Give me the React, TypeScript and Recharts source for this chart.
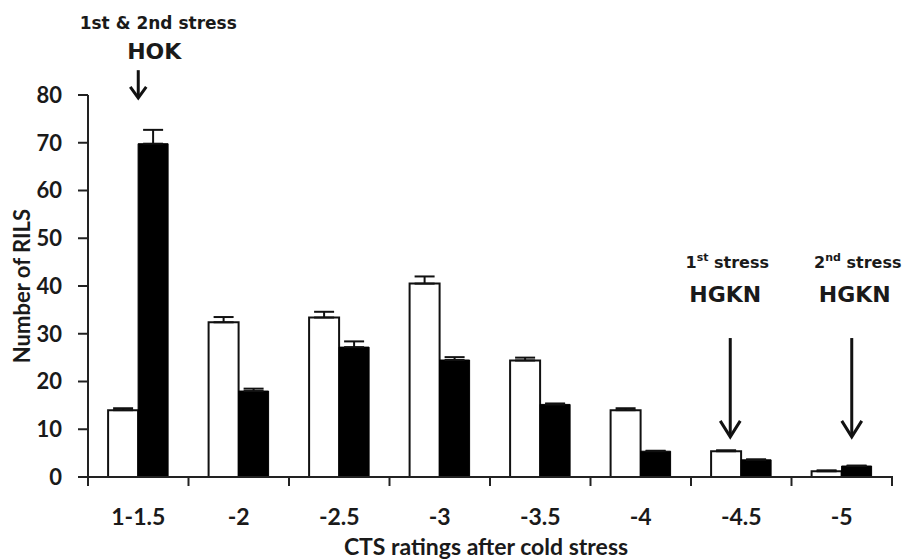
import React from 'react';
import { BarChart, Bar, XAxis, YAxis, ErrorBar, ReferenceLine, Label } from 'recharts';

const categories = ['1-1.5', '-2', '-2.5', '-3', '-3.5', '-4', '-4.5', '-5'];
const firstStress = [14, 32.4, 33.4, 40.5, 24.4, 14, 5.4, 1.2];
const firstErr = [0.4, 1.1, 1.2, 1.5, 0.6, 0.4, 0.2, 0.2];
const secondStress = [69.8, 18, 27.2, 24.5, 15.2, 5.4, 3.6, 2.3];
const secondErr = [2.9, 0.5, 1.2, 0.6, 0.2, 0.1, 0.1, 0.1];
const yTicks = [0, 10, 20, 30, 40, 50, 60, 70, 80];

const data = categories.map((c, i) => ({
  cat: c,
  first: firstStress[i],
  firstE: [0, firstErr[i]],
  second: secondStress[i],
  secondE: [0, secondErr[i]],
}));

const W = 908;
const H = 560;
const M = { top: 95, right: 16, bottom: 0, left: 0 };
const Y_W = 88;
const X_H = 83;
const BAND = (W - M.left - M.right - Y_W) / categories.length;

const ARIAL = '"DejaVu Sans", sans-serif';
const CAL = 'Lato, "Open Sans", sans-serif';

const XTick = (props: any) => {
  const { x, y, payload, index } = props;
  return (
    <g>
      <line x1={x - BAND / 2} x2={x - BAND / 2} y1={y - 1} y2={y + 9} stroke="#222" strokeWidth={2} />
      {index === categories.length - 1 && (
        <line x1={x + BAND / 2} x2={x + BAND / 2} y1={y - 1} y2={y + 9} stroke="#222" strokeWidth={2} />
      )}
      <text x={x} y={y + 48} textAnchor="middle" fontFamily={CAL} fontWeight={700} fontSize={23} fill="#1a1a1a">
        {payload.value}
      </text>
    </g>
  );
};

const makeArrow = (opts: {
  dx: number;
  head: number;
  headLen: number;
  sw: number;
  big: string;
  bigDx: number;
  bigDy: number;
  small: React.ReactNode;
  smallDx: number;
  smallDy: number;
  smallSize: number;
}) => (props: any) => {
  const { x1, y1, y2 } = props;
  const x = x1 + opts.dx;
  const top = Math.min(y1, y2);
  const bot = Math.max(y1, y2);
  return (
    <g>
      <line x1={x} x2={x} y1={top} y2={bot - 2} stroke="#111" strokeWidth={opts.sw} />
      <polyline
        points={`${x - opts.head / 2},${bot - opts.headLen} ${x},${bot} ${x + opts.head / 2},${bot - opts.headLen}`}
        fill="none"
        stroke="#111"
        strokeWidth={opts.sw}
      />
      <text x={x + opts.bigDx} y={top + opts.bigDy} textAnchor="middle" fontFamily={ARIAL} fontWeight={700} fontSize={22} fill="#1a1a1a">
        {opts.big}
      </text>
      <text x={x + opts.smallDx} y={top + opts.smallDy} textAnchor="middle" fontFamily={ARIAL} fontWeight={700} fontSize={opts.smallSize} fill="#1a1a1a">
        {opts.small}
      </text>
    </g>
  );
};

const hokArrow = makeArrow({
  dx: 0, head: 16, headLen: 11, sw: 3, big: 'HOK', bigDx: 16, bigDy: -11,
  small: '1st & 2nd stress', smallDx: 20, smallDy: -41, smallSize: 17,
});
const hgkn1Arrow = makeArrow({
  dx: -11, head: 20, headLen: 16, sw: 3, big: 'HGKN', bigDx: -5, bigDy: -36,
  small: (<>1<tspan fontSize={11} dy={-7}>st</tspan><tspan dy={7}> stress</tspan></>),
  smallDx: -3, smallDy: -70, smallSize: 16,
});
const hgkn2Arrow = makeArrow({
  dx: 10, head: 20, headLen: 16, sw: 3, big: 'HGKN', bigDx: 3, bigDy: -36,
  small: (<>2<tspan fontSize={11} dy={-7}>nd</tspan><tspan dy={7}> stress</tspan></>),
  smallDx: 6, smallDy: -70, smallSize: 16,
});

export default function App() {
  return (
    <div style={{ position: 'absolute', left: 0, top: 0, background: '#fff' }}>
      <BarChart width={W} height={H} data={data} margin={M} barGap={0} barCategoryGap="20%">
        <XAxis
          dataKey="cat"
          height={X_H}
          tickLine={false}
          tickSize={0}
          tickMargin={0}
          tick={<XTick />}
          axisLine={{ stroke: '#222', strokeWidth: 2 }}
          interval={0}
        >
          <Label
            value="CTS ratings after cold stress"
            position="insideBottom"
            offset={5}
            dx={-4}
            style={{ fontFamily: CAL, fontWeight: 700, fontSize: 23, fill: '#1a1a1a' }}
          />
        </XAxis>
        <YAxis
          width={Y_W}
          domain={[0, 80]}
          ticks={yTicks}
          interval={0}
          tickSize={10}
          tickMargin={16}
          axisLine={{ stroke: '#222', strokeWidth: 2 }}
          tickLine={{ stroke: '#222', strokeWidth: 2 }}
          tick={{ fontFamily: CAL, fontWeight: 700, fontSize: 22, fill: '#1a1a1a' }}
        >
          <Label
            value="Number of RILS"
            angle={-90}
            position="insideLeft"
            offset={22}
            style={{ fontFamily: CAL, fontWeight: 700, fontSize: 22, fill: '#1a1a1a', textAnchor: 'middle' }}
          />
        </YAxis>
        <Bar dataKey="first" fill="#fff" stroke="#111" strokeWidth={2} isAnimationActive={false}>
          <ErrorBar dataKey="firstE" direction="y" width={10} stroke="#111" strokeWidth={2} isAnimationActive={false} />
        </Bar>
        <Bar dataKey="second" fill="#000" stroke="#000" strokeWidth={1} isAnimationActive={false}>
          <ErrorBar dataKey="secondE" direction="y" width={10} stroke="#111" strokeWidth={2} isAnimationActive={false} />
        </Bar>
        <ReferenceLine
          ifOverflow="visible"
          segment={[{ x: '1-1.5', y: 85.2 }, { x: '1-1.5', y: 79.4 }]}
          shape={hokArrow}
        />
        <ReferenceLine
          ifOverflow="visible"
          segment={[{ x: '-4.5', y: 29.1 }, { x: '-4.5', y: 8.4 }]}
          shape={hgkn1Arrow}
        />
        <ReferenceLine
          ifOverflow="visible"
          segment={[{ x: '-5', y: 29.1 }, { x: '-5', y: 8.4 }]}
          shape={hgkn2Arrow}
        />
      </BarChart>
    </div>
  );
}
